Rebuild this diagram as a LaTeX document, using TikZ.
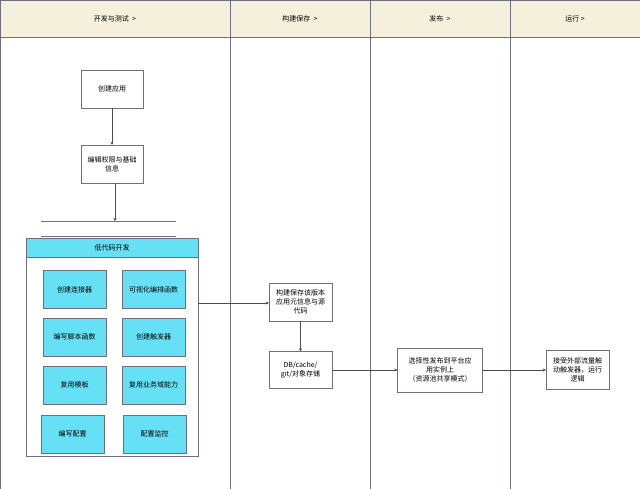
\documentclass[tikz,border=0pt]{standalone}
\usepackage{fontspec}
\setmainfont{Noto Sans CJK SC}
\usetikzlibrary{arrows.meta}
\definecolor{lanehead}{HTML}{F5F0DC}
\definecolor{lowcode}{HTML}{66E0F5}
\definecolor{laneline}{HTML}{6E6E80}
\tikzset{
  stepbox/.style={draw=laneline, fill=white, align=center, font=\fontsize{7}{9}\selectfont, inner sep=1pt},
  cellbox/.style={draw=laneline, fill=lowcode, font=\fontsize{7}{9}\selectfont, minimum width=63pt, minimum height=38pt},
  flow/.style={-{Stealth[length=3pt,width=3pt]}, draw=black!70, thin}
}
\begin{document}
\begin{tikzpicture}[x=1pt, y=-1pt]
    \useasboundingbox (0,0) rectangle (640,489);
    %泳道
    \fill[white] (0,0) rectangle (640,489);
    \fill[lanehead] (0,0) rectangle (640,37);
    \draw[laneline, thick] (0,0) rectangle (640,489);
    \draw[laneline] (0,37) -- (640,37);
    \foreach \x in {230,370,510} \draw[laneline] (\x,0) -- (\x,489);
    \node[font=\fontsize{7}{9}\selectfont] (lane1) at (115,18.5) {开发与测试 \ >};
    \node[font=\fontsize{7}{9}\selectfont] (lane2) at (300,18.5) {构建保存 \ >};
    \node[font=\fontsize{7}{9}\selectfont] (lane3) at (440,18.5) {发布 \ >};
    \node[font=\fontsize{7}{9}\selectfont] (lane4) at (575,18.5) {运行 >};

    % 开发与测试
    \node[stepbox, minimum width=62pt, minimum height=38pt] (create) at (112,89) {创建应用};
    \node[stepbox, minimum width=62pt, minimum height=38pt] (perm) at (112,164) {编辑权限与基础\\信息};
    \draw[laneline] (41,221) -- (176,221);
    \draw[laneline] (41,236) -- (176,236);
    \coordinate (split) at (115,221);
    \draw[flow] (create) -- (perm);
    \draw[flow] (perm.south -| split) -- (split);

    % 低代码开发
    \draw[laneline, fill=white] (26,238) rectangle (198,456);
    \draw[laneline, fill=lowcode] (26,238) rectangle (198,257);
    \coordinate (lowright) at (198,303);
    \node[font=\fontsize{7}{9}\selectfont] (lowtitle) at (112,247.5) {低代码开发};
    \node[cellbox] (c1) at (74.5,289.5) {创建连接器};
    \node[cellbox] (c2) at (153.5,289.5) {可视化编排函数};
    \node[cellbox] (c3) at (74.5,337) {编写脚本函数};
    \node[cellbox] (c4) at (153.5,337) {创建触发器};
    \node[cellbox] (c5) at (74.5,385) {复用模板};
    \node[cellbox] (c6) at (153.5,385) {复用业务域能力};
    \node[cellbox] (c7) at (72.5,434) {编写配置};
    \node[cellbox] (c8) at (154.5,434) {配置监控};

    % 构建保存
    \node[stepbox, minimum width=63pt, minimum height=38pt] (build) at (300.5,302) {构建保存该版本\\应用元信息与源\\代码};
    \node[stepbox, minimum width=63pt, minimum height=37pt] (store) at (300.5,370) {DB/cache/\\git/对象存储};
    \draw[flow] (lowright) -- (lowright -| build.west);
    \draw[flow] (build) -- (store);

    % 发布
    \node[stepbox, minimum width=85pt, minimum height=44pt] (publish) at (440,370) {选择性发布到平台应\\用实例上\\（资源池共享模式）};
    \draw[flow] (store) -- (publish);

    % 运行
    \node[stepbox, minimum width=63pt, minimum height=39pt] (run) at (577.5,370) {接受外部流量触\\动触发器，运行\\逻辑};
    \draw[flow] (publish) -- (run);
\end{tikzpicture}
\end{document}
